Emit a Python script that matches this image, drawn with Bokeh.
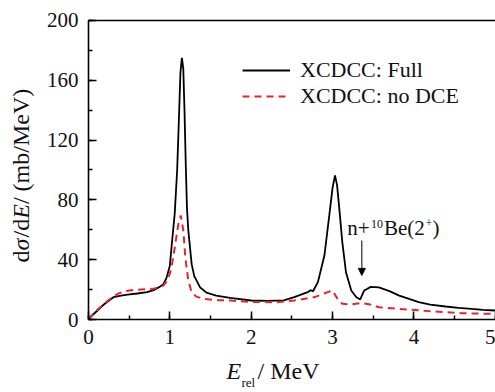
import math
from bokeh.plotting import figure
from bokeh.models import (Legend, LegendItem, Label, Arrow, NormalHead,
                          SingleIntervalTicker, FixedTicker, Range1d, LinearAxis)
from bokeh.embed import file_html
from bokeh.resources import INLINE

# ---- data ----
e_full = [0.0, 0.05, 0.10, 0.15, 0.20, 0.31, 0.40, 0.48, 0.60, 0.72, 0.80, 0.88,
          0.92, 0.96, 1.00, 1.02, 1.06, 1.09, 1.115, 1.13, 1.148, 1.165, 1.18,
          1.195, 1.21, 1.227, 1.268, 1.30, 1.37, 1.45, 1.57, 1.74, 2.00, 2.20,
          2.40, 2.53, 2.62, 2.695, 2.73, 2.76, 2.82, 2.90, 2.96, 3.00, 3.03,
          3.055, 3.08, 3.12, 3.165, 3.23, 3.29, 3.34, 3.39, 3.47, 3.57, 3.70,
          3.82, 3.95, 4.06, 4.20, 4.39, 4.55, 4.71, 4.85, 5.0]
xs_full = [0.5, 3.0, 5.5, 8.2, 10.5, 15.0, 16.0, 16.7, 17.4, 18.3, 19.6, 22.0,
           23.5, 28.0, 36.0, 48.0, 71.0, 100.0, 140.0, 165.0, 175.0, 168.0,
           140.0, 105.0, 75.0, 59.5, 37.0, 29.0, 21.6, 18.0, 16.0, 14.5, 12.7,
           12.4, 12.8, 15.0, 16.8, 18.3, 19.6, 18.9, 25.0, 42.8, 69.6, 88.0,
           96.3, 90.0, 76.0, 51.7, 31.6, 19.4, 15.0, 13.4, 19.4, 21.8, 21.5,
           19.0, 16.0, 13.6, 11.6, 10.0, 8.7, 7.8, 7.1, 6.5, 6.0]

e_nodce = [0.0, 0.06, 0.12, 0.24, 0.36, 0.46, 0.56, 0.68, 0.80, 0.92, 0.96,
           1.00, 1.03, 1.06, 1.105, 1.134, 1.166, 1.19, 1.227, 1.268, 1.32,
           1.41, 1.55, 1.74, 2.00, 2.30, 2.53, 2.78, 2.94, 3.00, 3.06, 3.12,
           3.23, 3.35, 3.45, 3.57, 3.82, 4.18, 4.59, 5.0]
xs_nodce = [0.0, 3.8, 7.1, 12.7, 17.2, 19.0, 19.8, 20.2, 20.5, 22.7, 25.5,
            30.5, 38.0, 48.0, 64.0, 69.6, 59.5, 41.7, 26.0, 18.3, 15.5,
            13.8, 13.0, 12.7, 11.8, 11.5, 12.7, 15.0, 18.3, 19.4, 13.8, 10.5,
            10.0, 11.1, 10.2, 8.2, 7.1, 5.6, 4.2, 3.7]

x_min, x_max = 0, 5
y_min, y_max = 0, 200
x_ticks_interval = 1
y_ticks_interval = 40
series_labels = ["XCDCC: Full", "XCDCC: no DCE"]

SERIF = "'Liberation Serif'"
RED = "#e3262b"
W, H = 495, 392
X0, Y0 = 88.0, 319.0          # canvas pixel of the data origin
KX, KY = 81.35, 1.4952        # pixels per MeV / per mb/MeV

p = figure(width=W, height=H, output_backend="svg", toolbar_location=None,
           x_range=Range1d(-X0 / KX, (W - X0) / KX),
           y_range=Range1d(-(H - Y0) / KY, Y0 / KY),
           x_axis_location=None, y_axis_location=None,
           min_border_left=0, min_border_right=0, min_border_top=0,
           min_border_bottom=0)
p.grid.visible = False
p.outline_line_color = None
p.background_fill_color = "white"
p.border_fill_color = "white"

xax = LinearAxis(fixed_location=y_min, bounds=(x_min, x_max),
                 ticker=SingleIntervalTicker(interval=x_ticks_interval, num_minor_ticks=2))
yax = LinearAxis(fixed_location=x_min, bounds=(y_min, y_max),
                 ticker=SingleIntervalTicker(interval=y_ticks_interval, num_minor_ticks=2))
tax = LinearAxis(fixed_location=y_max, bounds=(x_min, x_max),
                 ticker=FixedTicker(ticks=[]), major_label_text_alpha=0)
for ax in (xax, yax):
    ax.major_tick_in = 8
    ax.major_tick_out = 0
    ax.minor_tick_in = 4
    ax.minor_tick_out = 0
    ax.major_tick_line_width = 1.5
    ax.minor_tick_line_width = 1.5
    ax.major_label_text_font = SERIF
    ax.major_label_text_font_size = "21px"
    ax.major_label_text_color = "#111111"
    ax.major_label_standoff = 10
for ax in (xax, yax, tax):
    ax.axis_line_width = 1.6
    ax.axis_line_color = "black"
p.add_layout(xax, "below")
p.add_layout(yax, "left")
p.add_layout(tax, "above")

r_full = p.line(e_full, xs_full, line_color="black", line_width=1.8)
r_nodce = p.line(e_nodce, xs_nodce, line_color=RED, line_width=2,
                 line_dash="7 5")

legend = Legend(items=[LegendItem(label=series_labels[0], renderers=[r_full]),
                       LegendItem(label=series_labels[1], renderers=[r_nodce])],
                location=(242, 283), glyph_width=48, glyph_height=20,
                label_height=20, label_standoff=10, spacing=0, padding=0,
                margin=0, border_line_alpha=0, background_fill_alpha=0,
                label_text_font=SERIF, label_text_font_size="22px",
                label_text_color="#111111")
p.add_layout(legend)

def lab(text, px, py, size, style="normal", angle=0.0):
    # (px, py): canvas pixel where the text's baseline starts
    off = 0.36 * size   # Bokeh's alphabetic anchor sits this far below the baseline
    if angle:
        px -= off
    else:
        py -= off
    p.add_layout(Label(x=px, y=H - py, x_units="screen", y_units="screen",
                       text=text, text_font=SERIF, text_font_size=f"{size}px",
                       text_font_style=style, text_color="#111111",
                       angle=angle, text_baseline="alphabetic",
                       text_align="left"))

# y axis title
ya = math.pi / 2
lab("d", 29.5, 262, 24, angle=ya)
lab("σ", 29.5, 250, 24, "italic", ya)
lab("/d", 29.5, 237, 24, angle=ya)
lab("E", 29.5, 218.3, 24, "italic", ya)
lab(" / (mb/MeV)", 29.5, 203.6, 24, angle=ya)

# x axis title
lab("E", 226, 379, 24, "italic")
lab("rel", 241, 387, 13)
lab("/ MeV", 257, 379, 24)

# annotation n+10Be(2+)
lab("n+", 346.7, 235, 21)
lab("10", 370.5, 228, 12)
lab("Be(2", 383.5, 235, 21)
lab("+", 425, 227, 12)
lab(")", 432, 235, 21)

arrow_x = 3.36
p.add_layout(Arrow(end=NormalHead(size=7, fill_color="black", line_color="black",
                                  line_width=1),
                   x_start=arrow_x, y_start=52.8, x_end=arrow_x, y_end=29.5,
                   line_color="black", line_width=1))

open("out.html", "w").write(file_html(p, INLINE))
